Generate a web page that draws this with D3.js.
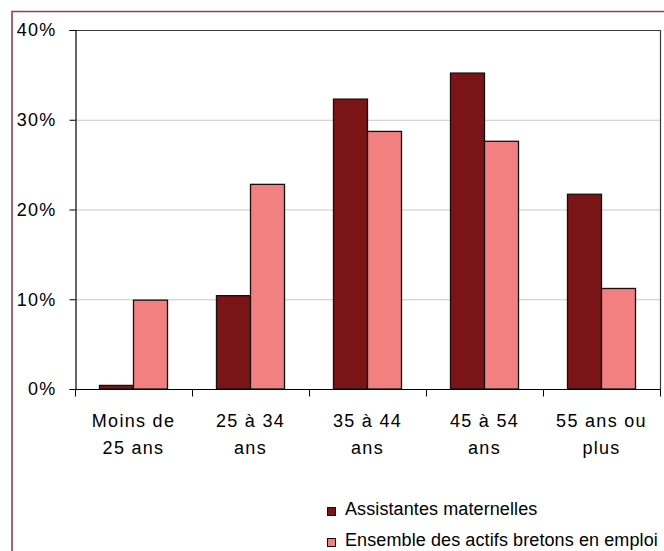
<!DOCTYPE html>
<html>
<head>
<meta charset="utf-8">
<script src="https://cdn.jsdelivr.net/npm/d3@7"></script>
<style>
  html, body { margin: 0; padding: 0; background: #fff; }
  svg { display: block; }
  text { font-family: "Liberation Sans", Arial, sans-serif; fill: #000; }
</style>
</head>
<body>
<svg id="chart" width="664" height="551"></svg>
<script>
// Age groups (two-line labels)
const categories = ["Moins de 25 ans", "25 à 34 ans", "35 à 44 ans", "45 à 54 ans", "55 ans ou plus"];
const categoryLines = [["Moins de", "25 ans"], ["25 à 34", "ans"], ["35 à 44", "ans"], ["45 à 54", "ans"], ["55 ans ou", "plus"]];
const seriesNames = ["Assistantes maternelles", "Ensemble des actifs bretons en emploi"];
const assistantes = [0.004, 0.104, 0.323, 0.352, 0.217];
const ensemble = [0.099, 0.228, 0.287, 0.276, 0.112];
const yTicks = [0, 0.1, 0.2, 0.3, 0.4];
const colors = ["#7B1416", "#F28080"];

const svg = d3.select("#chart");
const plot = { left: 75, right: 660, top: 30, bottom: 389 };

// Outer frame (top and left edges visible)
svg.append("path")
  .attr("d", `M12,551 L12,11.5 L664,11.5`)
  .attr("fill", "none")
  .attr("stroke", "#9C3B3E")
  .attr("stroke-width", 1.6);

const x0 = d3.scaleBand().domain(categories).range([plot.left, plot.right]).padding(0);
const x1 = d3.scaleBand().domain(seriesNames).range([0, x0.bandwidth()]).paddingInner(0).paddingOuter(0.72);
const y = d3.scaleLinear().domain([0, 0.4]).range([plot.bottom, plot.top]);

// Horizontal gridlines
svg.append("g").selectAll("line")
  .data(yTicks.filter(t => t > 0 && t < 0.4))
  .join("line")
  .attr("x1", plot.left).attr("x2", plot.right)
  .attr("y1", d => y(d) + 0.5).attr("y2", d => y(d) + 0.5)
  .attr("stroke", "#C8C8C8").attr("stroke-width", 1);

// Plot frame (top and right)
svg.append("path")
  .attr("d", `M${plot.left},${plot.top + 0.5} L${plot.right + 0.5},${plot.top + 0.5} L${plot.right + 0.5},${plot.bottom}`)
  .attr("fill", "none").attr("stroke", "#3a3a3a").attr("stroke-width", 1.2);

// Bars
const values = [assistantes, ensemble];
const groups = svg.append("g").selectAll("g")
  .data(categories)
  .join("g")
  .attr("transform", d => `translate(${x0(d)},0)`);

groups.selectAll("rect")
  .data((d, i) => seriesNames.map((s, k) => ({ s, v: values[k][i], k })))
  .join("rect")
  .attr("x", d => x1(d.s))
  .attr("width", x1.bandwidth())
  .attr("y", d => y(d.v))
  .attr("height", d => y(0) - y(d.v))
  .attr("fill", d => colors[d.k])
  .attr("stroke", "#111")
  .attr("stroke-width", 1.3);

// Y axis
const yAxis = svg.append("g")
  .attr("transform", `translate(${plot.left + 0.5},0)`)
  .call(d3.axisLeft(y).tickValues(yTicks).tickFormat(d3.format(".0%")).tickSize(6).tickPadding(13));
yAxis.select(".domain").attr("stroke", "#000").attr("stroke-width", 1.2);
yAxis.selectAll(".tick line").attr("stroke", "#000");
yAxis.selectAll(".tick text")
  .attr("font-family", "Liberation Sans, Arial, sans-serif")
  .attr("font-size", 18).attr("letter-spacing", 1.2).attr("fill", "#000");

// X axis baseline with ticks at category boundaries
const xAxis = svg.append("g").attr("transform", `translate(0,${plot.bottom + 0.5})`);
xAxis.append("line")
  .attr("x1", plot.left).attr("x2", plot.right + 1)
  .attr("stroke", "#000").attr("stroke-width", 1.2);
const boundaries = categories.map(c => x0(c)).concat([x0(categories[categories.length - 1]) + x0.bandwidth()]);
xAxis.selectAll("line.tk")
  .data(boundaries)
  .join("line").attr("class", "tk")
  .attr("x1", d => d + 0.5).attr("x2", d => d + 0.5)
  .attr("y1", 0).attr("y2", 7)
  .attr("stroke", "#000");

// Category labels
const labels = svg.append("g").selectAll("text")
  .data(categories)
  .join("text")
  .attr("text-anchor", "middle")
  .attr("font-size", 18)
  .attr("letter-spacing", 1.3)
  .attr("transform", d => `translate(${x0(d) + x0.bandwidth() / 2},0)`);
labels.selectAll("tspan")
  .data((d, i) => categoryLines[i])
  .join("tspan")
  .attr("x", 0)
  .attr("y", (d, j) => 427 + j * 27)
  .text(d => d);

// Legend
const legend = svg.append("g").selectAll("g")
  .data(seriesNames)
  .join("g")
  .attr("transform", (d, i) => `translate(327,${507 + i * 31})`);
legend.append("rect")
  .attr("x", 0.5).attr("y", 0.5)
  .attr("width", 8).attr("height", 8)
  .attr("fill", (d, i) => colors[i])
  .attr("stroke", "#111").attr("stroke-width", 1);
legend.append("text")
  .attr("x", 18).attr("y", 8)
  .attr("font-size", 18)
  .attr("letter-spacing", 0.1)
  .text(d => d);
</script>
</body>
</html>
